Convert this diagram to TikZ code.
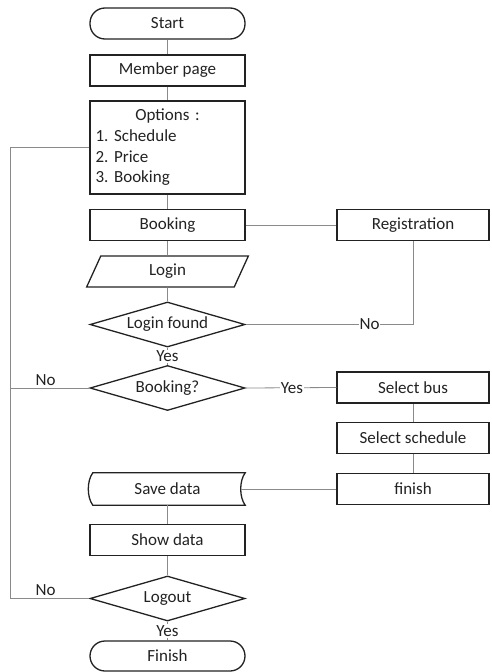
\documentclass[tikz,border=0pt]{standalone}
\usepackage{fontspec}
\setmainfont{Carlito}
\usetikzlibrary{shapes.geometric,calc}
\definecolor{inkc}{HTML}{222222}
\definecolor{linec}{HTML}{8A8A8A}
\frenchspacing
\begin{document}
\begin{tikzpicture}[x=1pt,y=-1pt,
  font=\fontsize{17}{20.7}\selectfont, text=inkc,
  base/.style={draw=inkc, line width=1.3pt, minimum height=31pt, inner sep=0pt},
  procbox/.style={base, rectangle, minimum width=155pt},
  sidebox/.style={base, rectangle, minimum width=152pt},
  termbox/.style={base, rectangle, rounded corners=15pt, minimum width=155pt},
  decbox/.style={base, diamond, aspect=3.4, minimum width=155pt, minimum height=45pt},
  iobox/.style={base, trapezium, trapezium left angle=75, trapezium right angle=105, trapezium stretches=true, minimum width=162pt},
  conn/.style={draw=linec, line width=0.8pt},
  lbl/.style={fill=white, inner sep=1pt, text=inkc},
  lblup/.style={above, inner sep=2pt, text=inkc}]
\useasboundingbox (0,0) rectangle (491,672);

\node[termbox] (start) at (167.5,23.5) {Start};
\node[procbox] (member) at (167.5,70.5) {Member page};
\node[base, rectangle, minimum width=155pt, minimum height=93pt, text width=144pt, inner xsep=5.5pt, align=left] (opts) at (167.5,147.5)
  {\makebox[144pt]{Options :}\\1. Schedule\\2. Price\\3. Booking};
\node[procbox] (booking) at (167.5,225) {Booking};
\node[sidebox] (reg) at (413,225) {Registration};
\node[iobox] (login) at (167.5,271.5) {Login};
\node[decbox] (lf) at (167.5,324.5) {Login found};
\node[decbox] (bk) at (167.5,388) {Booking?};
\node[sidebox] (sbus) at (413,387.5) {Select bus};
\node[sidebox] (ssched) at (413,438) {Select schedule};
\node[sidebox] (fin) at (413,489) {finish};
\node[rectangle, minimum width=155pt, minimum height=32pt, inner sep=0pt] (save) at (167.5,489) {Save data};
\draw[draw=inkc, line width=1.3pt]
  ([xshift=3pt]save.north west) -- (save.north east)
  .. controls +(-6,8) and +(-6,-8) .. (save.south east)
  -- ([xshift=3pt]save.south west)
  .. controls +(-6,-8) and +(-6,8) .. ([xshift=3pt]save.north west) -- cycle;
\node[procbox] (show) at (167.5,540) {Show data};
\node[decbox] (logout) at (167.5,598.5) {Logout};
\node[termbox, minimum height=30pt] (finish) at (167.5,656) {Finish};

\coordinate (loopTop) at (10,147.5);

% connectors
\draw[conn] (start) -- (member);
\draw[conn] (member) -- (opts);
\draw[conn] (opts) -- (booking);
\draw[conn] (booking) -- (login);
\draw[conn] (login) -- (lf);
\draw[conn] (booking) -- (reg);
\draw[conn] (lf.east) -- node[lbl, pos=0.74] {No} (reg.south |- lf.east) -- (reg.south);
\draw[conn] (bk.east) -- node[lbl, pos=0.51] {Yes} (sbus.west);
\draw[conn] (sbus) -- (ssched);
\draw[conn] (ssched) -- (fin);
\draw[conn] (fin.west) -- ([xshift=-4pt]save.east);
\draw[conn] (save) -- (show);
\draw[conn] (show) -- (logout);
\draw[conn] (opts.west) -- (loopTop) -- (loopTop |- logout.west);
\draw[conn] (bk.west) -- node[lblup, pos=0.55] {No} (loopTop |- bk.west);
\draw[conn] (logout.west) -- node[lblup, pos=0.55] {No} (loopTop |- logout.west);
\draw[conn] (lf.south) -- node[lbl] {Yes} (bk.north);
\draw[conn] (logout.south) -- node[lbl] {Yes} (finish.north);
\end{tikzpicture}
\end{document}
